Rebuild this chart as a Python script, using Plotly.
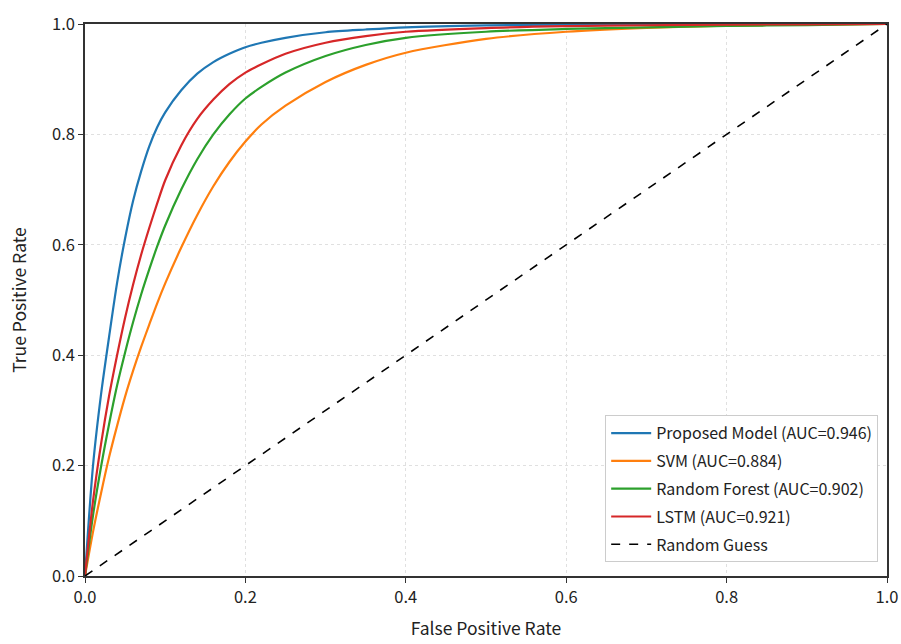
import plotly.graph_objects as go

# ROC data (shared FPR grid, TPR per model)
fpr = [0, 0.01, 0.02, 0.03, 0.04, 0.05, 0.06, 0.07, 0.08, 0.09, 0.10, 0.12, 0.14, 0.16, 0.18, 0.20,
       0.22, 0.25, 0.30, 0.35, 0.40, 0.50, 0.60, 0.70, 0.80, 0.90, 1.0]

proposed_tpr = [0, 0.200, 0.329, 0.433, 0.531, 0.612, 0.680, 0.733, 0.778, 0.813, 0.840, 0.880, 0.910, 0.931, 0.946, 0.958,
                0.966, 0.975, 0.985, 0.990, 0.994, 0.9975, 0.999, 0.9995, 1.0, 1.0, 1.0]
svm_tpr = [0, 0.080, 0.150, 0.215, 0.272, 0.325, 0.372, 0.415, 0.455, 0.494, 0.530, 0.595, 0.654, 0.706, 0.750, 0.787,
           0.818, 0.852, 0.895, 0.926, 0.948, 0.973, 0.986, 0.993, 0.997, 0.999, 1.0]
rf_tpr = [0, 0.110, 0.198, 0.275, 0.345, 0.405, 0.460, 0.510, 0.555, 0.597, 0.635, 0.700, 0.755, 0.800, 0.836, 0.865,
          0.886, 0.912, 0.942, 0.962, 0.975, 0.986, 0.991, 0.994, 0.9965, 0.998, 1.0]
lstm_tpr = [0, 0.136, 0.239, 0.326, 0.400, 0.468, 0.528, 0.582, 0.630, 0.675, 0.717, 0.780, 0.828, 0.863, 0.891, 0.912,
            0.927, 0.946, 0.966, 0.978, 0.986, 0.9927, 0.996, 0.9977, 0.9988, 0.9995, 1.0]

guess_fpr = [0, 1]
guess_tpr = [0, 1]

names = ["Proposed Model (AUC=0.946)", "SVM (AUC=0.884)", "Random Forest (AUC=0.902)", "LSTM (AUC=0.921)"]
colors = ["#1f77b4", "#ff7f0e", "#2ca02c", "#d62728"]
series = [proposed_tpr, svm_tpr, rf_tpr, lstm_tpr]

FONT = "Noto Sans CJK JP, Noto Sans, DejaVu Sans, sans-serif"

fig = go.Figure()
for i, (ty, n, c) in enumerate(zip(series, names, colors)):
    fig.add_trace(go.Scatter(x=fpr, y=ty, mode="lines", name=n, legendgroup=f"g{i}",
                             line=dict(color=c, width=2.2, shape="spline", smoothing=0.8)))
fig.add_trace(go.Scatter(x=guess_fpr, y=guess_tpr, mode="lines", name="Random Guess", legendgroup="g4",
                         line=dict(color="black", width=1.6, dash="dash")))

axis_common = dict(
    range=[0, 1], tickvals=[0, 0.2, 0.4, 0.6, 0.8, 1.0], ticktext=["0.0", "0.2", "0.4", "0.6", "0.8", "1.0"],
    showline=True, linecolor="#333333", linewidth=1.5, mirror=True,
    ticks="outside", ticklen=5, tickcolor="#333333", tickwidth=1.2,
    showgrid=True, gridcolor="#e0e0e0", gridwidth=1, griddash="dot",
    zeroline=False, tickfont=dict(size=16.5, color="#222222", family=FONT),
    automargin=False,
)

fig.update_layout(
    width=901, height=644,
    margin=dict(l=85, r=14, t=24, b=68),
    paper_bgcolor="white", plot_bgcolor="white",
    font=dict(family=FONT, color="#222222"),
    xaxis=dict(axis_common, title=dict(text="False Positive Rate", font=dict(size=17.5), standoff=16)),
    yaxis=dict(axis_common, title=dict(text="True Positive Rate", font=dict(size=17.5), standoff=21)),
    legend=dict(x=0.989, y=0.025, xanchor="right", yanchor="bottom",
                bgcolor="white", bordercolor="#cccccc", borderwidth=1,
                font=dict(size=16, color="#222222"), traceorder="grouped", tracegroupgap=4, itemwidth=40),
    showlegend=True,
)

fig.write_html("out.html", config={"displayModeBar": False},
               post_script="document.body.style.margin='0px';document.body.style.overflow='hidden';")
